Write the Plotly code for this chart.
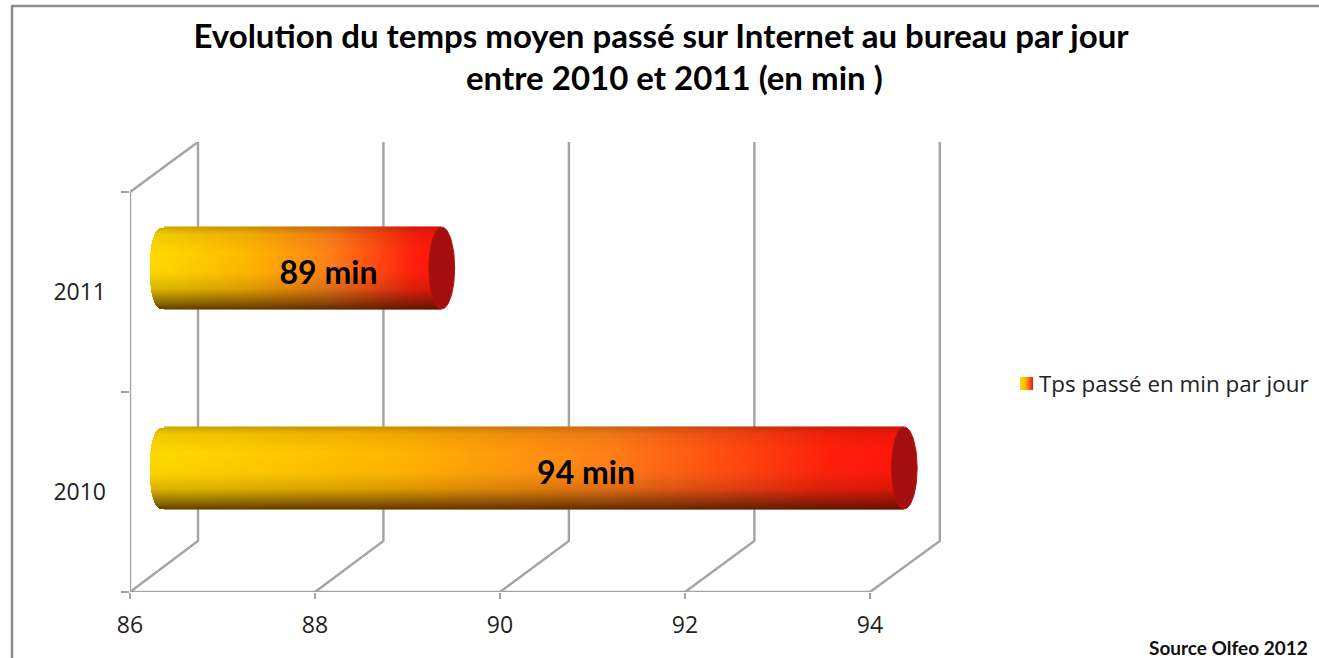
import numpy as np
import plotly.graph_objects as go

categories = ["2010", "2011"]
values = [94, 89]
labels = ["94 min", "89 min"]
x_ticks = [86, 88, 90, 92, 94]
series_name = "Tps passé en min par jour"
title_line_1 = "Evolution du temps moyen passé sur Internet au bureau par jour"
title_line_2 = "entre 2010 et 2011 (en min )"
source_text = "Source Olfeo 2012"
baseline = 86

W, H = 1319, 658
L, R, T, B = 130, 944, 142, 592
XMAX = 94.8
YMIN, YMAX = -0.5, 1.75
DEPTH = 0.735
BAR_DX, BAR_DY = 0.37, 0.12
BAR_W = 0.41
CAP_A = 0.14
CAP_L = 0.155
px_x = (XMAX - baseline) / (R - L)
px_y = (YMAX - YMIN) / (B - T)
GRID = "#a3a3a3"
dom_x = [L / W, R / W]
dom_y = [(H - B) / H, (H - T) / H]

GRADIENT = [[0, "#ffd800"], [0.3, "#ffb800"], [0.6, "#ff8018"], [0.9, "#ff200c"], [1, "#ff160a"]]
SHADE = [[0, "rgba(50,20,0,0)"], [1, "rgba(50,20,0,1)"]]

fig = go.Figure()

# ---- 3D walls, on the main axes (below the bars)
pos = list(range(len(categories)))
wx, wy = [], []
for t in x_ticks:
    back = t + DEPTH + (t - baseline) * 0.0025
    wx += [t, back, back, None]
    wy += [YMIN, YMIN + 0.255, YMAX, None]
wx += [baseline, baseline, baseline + DEPTH, None, baseline, x_ticks[-1]]
wy += [YMIN, 1.5, YMAX, None, YMIN, YMIN]
fig.add_trace(go.Scatter(x=wx, y=wy, mode="lines", line=dict(color=GRID, width=2.4),
                         showlegend=False, hoverinfo="skip", cliponaxis=False))

# ---- real bars (transparent; the cylinder look sits on them)
fig.add_trace(go.Bar(y=pos, x=[v - baseline for v in values], base=baseline, orientation="h",
                     width=BAR_W, name=series_name, marker=dict(color="rgba(255,122,26,0)", line=dict(width=0)),
                     xaxis="x2", yaxis="y2", hoverinfo="skip"))

# ---- cylinders
for p, v, lab, frac in zip(pos, values, labels, (0.57, 0.592)):
    xs = np.arange(baseline - CAP_L, v + px_x, px_x)
    ys = np.arange(p - BAR_W / 2, p + BAR_W / 2 + px_y / 2, px_y)
    X, Y = np.meshgrid(xs, ys)
    t = (Y - p) / (BAR_W / 2)
    edge = np.sqrt(np.clip(1 - t ** 2, 0, 1))
    mask = (X >= baseline - CAP_L * edge ** 0.7) & (X <= v)
    color = np.where(mask, np.clip((X - baseline) / (v - baseline), 0, 1), np.nan)
    tt = (1 - t) / 2  # 0 at top, 1 at bottom
    shade = np.interp(tt, [0, 0.08, 0.3, 0.55, 0.75, 0.9, 1], [0.24, 0.08, 0, 0.02, 0.18, 0.52, 0.78])
    shade = np.where(mask, shade, np.nan)
    fig.add_trace(go.Heatmap(x=xs, y=ys, z=color, zmin=0, zmax=1, colorscale=GRADIENT, showscale=False,
                             xaxis="x2", yaxis="y2", hoverinfo="skip"))
    fig.add_trace(go.Heatmap(x=xs, y=ys, z=shade, zmin=0, zmax=1, colorscale=SHADE, showscale=False,
                             xaxis="x2", yaxis="y2", hoverinfo="skip"))
    a = np.linspace(0, 2 * np.pi, 90)
    fig.add_trace(go.Scatter(x=v + CAP_A * np.cos(a), y=p + BAR_W / 2 * np.sin(a), mode="lines",
                             fill="toself", fillcolor="#a50e0e", line=dict(color="#b81210", width=1),
                             showlegend=False, hoverinfo="skip", xaxis="x2", yaxis="y2", cliponaxis=False))
    fig.add_trace(go.Scatter(x=[baseline + (v - baseline) * frac], y=[p - 0.04], mode="text", text=[lab],
                             textfont=dict(family="Lato", size=32, color="#000000", weight="bold"),
                             showlegend=False, hoverinfo="skip", xaxis="x2", yaxis="y2", cliponaxis=False))

# ---- legend swatch gradient
fig.add_trace(go.Heatmap(z=[np.linspace(0, 1, 13).tolist()], colorscale=GRADIENT, showscale=False,
                         zmin=0, zmax=1, xaxis="x3", yaxis="y3", hoverinfo="skip", zsmooth="best"))

fig.update_layout(
    width=W, height=H, autosize=False,
    margin=dict(l=0, r=0, t=0, b=0, pad=0, autoexpand=False),
    paper_bgcolor="#ffffff", plot_bgcolor="rgba(0,0,0,0)",
    barmode="overlay",
    title=dict(text=title_line_1, x=661 / W, xanchor="center", y=1 - 36 / H, yanchor="middle",
               font=dict(family="Lato", size=33, color="#000000", weight="bold")),
    font=dict(family="Open Sans", color="#222222"),
    xaxis=dict(domain=dom_x, range=[baseline, XMAX], tickvals=x_ticks, ticks="outside", ticklen=6, tickcolor=GRID, tickwidth=2,
               showgrid=False, zeroline=False, showline=False, tickfont=dict(family="Open Sans", size=23, color="#222222"),
               ticklabelstandoff=6),
    yaxis=dict(domain=dom_y, range=[YMIN, YMAX], tickvals=pos, ticktext=categories, ticks="",
               minor=dict(tickvals=[-0.5, 0.5, 1.5], ticks="outside", ticklen=8, tickcolor=GRID, tickwidth=2, showgrid=False),
               showgrid=False, zeroline=False, showline=False, tickfont=dict(family="Open Sans", size=23, color="#222222"),
               ticklabelstandoff=23),
    xaxis2=dict(overlaying="x", range=[baseline - BAR_DX, XMAX - BAR_DX], visible=False),
    yaxis2=dict(overlaying="y", range=[YMIN - BAR_DY, YMAX - BAR_DY], visible=False),
    xaxis3=dict(domain=[1020 / W, 1033 / W], anchor="y3", visible=False),
    yaxis3=dict(domain=[(H - 390) / H, (H - 377) / H], anchor="x3", visible=False),
    showlegend=True,
    legend=dict(x=999 / W, xanchor="left", y=(H - 384) / H, yanchor="middle",
                font=dict(family="Open Sans", size=22.4, color="#222222"), bgcolor="rgba(0,0,0,0)"),
    shapes=[
        dict(type="line", xref="paper", yref="paper", x0=12 / W, x1=12 / W,
             y0=0, y1=(H - 6) / H, line=dict(color="#8c8c8c", width=2.5)),
        dict(type="line", xref="paper", yref="paper", x0=11 / W, x1=1,
             y0=(H - 6) / H, y1=(H - 6) / H, line=dict(color="#8c8c8c", width=2.5)),
    ],
    annotations=[
        dict(text=source_text, xref="paper", yref="paper", x=1310 / W, y=(H - 647) / H,
             xanchor="right", yanchor="middle", showarrow=False,
             font=dict(family="Lato", size=19, color="#111111", weight="bold")),
        dict(text=title_line_2, xref="paper", yref="paper", x=674 / W, y=(H - 77) / H,
             xanchor="center", yanchor="middle", showarrow=False,
             font=dict(family="Lato", size=33, color="#000000", weight="bold")),
    ],
)

fig.write_html("out.html", config=dict(displayModeBar=False),
               post_script="document.body.style.margin='0';document.documentElement.style.overflow='hidden';")
